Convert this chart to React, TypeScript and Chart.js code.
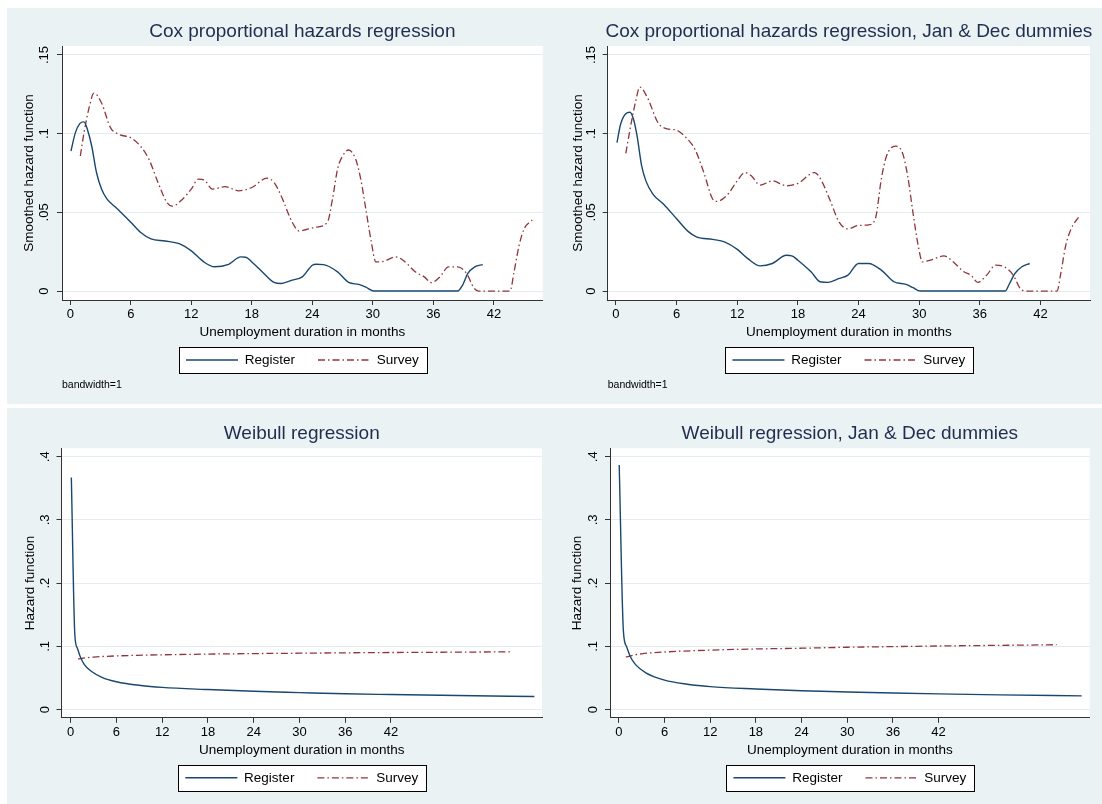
import React, { useEffect, useRef } from 'react';
import { Chart, registerables } from 'chart.js';

Chart.register(...registerables);

const FONT = "'Liberation Sans', Arial, Helvetica, sans-serif";
const NAVY = '#1a476f';
const MAROON = '#90353b';
const BG = '#eaf2f3';
const TITLE_COLOR = '#1f2d50';

// ---------- ticks & texts ----------
const coxYTicks = [0, 0.05, 0.1, 0.15];
const coxYTickLabels = ['0', '.05', '.1', '.15'];
const weibullYTicks = [0, 0.1, 0.2, 0.3, 0.4];
const weibullYTickLabels = ['0', '.1', '.2', '.3', '.4'];
const monthTicks = [0, 6, 12, 18, 24, 30, 36, 42];
const monthTickLabels = ['0', '6', '12', '18', '24', '30', '36', '42'];
const seriesLabels = ['Register', 'Survey'];
const panelTitles = [
  'Cox proportional hazards regression',
  'Cox proportional hazards regression, Jan & Dec dummies',
  'Weibull regression',
  'Weibull regression, Jan & Dec dummies',
];
const xAxisTitle = 'Unemployment duration in months';
const coxYTitle = 'Smoothed hazard function';
const weibullYTitle = 'Hazard function';
const coxNote = 'bandwidth=1';

// ---------- panel 1: Cox ----------
const cox1RegMonths = [0.07, 0.5, 0.94, 1.36, 1.7, 2.13, 2.6, 3.1, 3.63, 4.5, 6, 6.95, 8.0, 9.4, 10.8, 12, 13.24, 14.3, 15.7, 16.9, 17.4, 18, 19.2, 20.2, 20.9, 22.0, 23.0, 24, 24.4, 25.1, 26.5, 27.6, 28.6, 29.3, 30.1, 33, 36, 38.4, 38.9, 39.4, 40.1, 40.9];
const cox1RegHazard = [0.089, 0.1005, 0.1064, 0.1075, 0.1027, 0.092, 0.0753, 0.0648, 0.0585, 0.0532, 0.0437, 0.0374, 0.0332, 0.0318, 0.0301, 0.0255, 0.0185, 0.0154, 0.017, 0.0217, 0.0215, 0.0185, 0.0111, 0.0055, 0.0048, 0.0069, 0.009, 0.0164, 0.017, 0.0168, 0.0122, 0.0055, 0.0042, 0.0025, 0, 0, 0, 0, 0.0038, 0.011, 0.0154, 0.0168];
const cox1SurMonths = [1.0, 1.36, 1.9, 2.34, 3.1, 4.0, 4.86, 6, 6.95, 7.8, 8.7, 9.57, 10.1, 11.15, 12.0, 12.7, 13.24, 14.1, 15.35, 16.7, 18, 19.5, 20.2, 20.9, 22.0, 22.7, 23.4, 24.4, 25.5, 26.0, 26.5, 27.0, 27.6, 28.3, 28.8, 29.3, 29.85, 30.3, 31.06, 32.3, 33.2, 34.2, 35.1, 35.8, 36.65, 37.5, 38.4, 39.3, 40.0, 40.5, 43.6, 44.0, 44.5, 45.0, 45.8];
const cox1SurHazard = [0.0858, 0.1005, 0.1174, 0.1258, 0.1195, 0.1037, 0.0995, 0.0974, 0.0921, 0.0837, 0.069, 0.0564, 0.0539, 0.0585, 0.0648, 0.0711, 0.0707, 0.0648, 0.0663, 0.0637, 0.0658, 0.0717, 0.069, 0.0606, 0.0438, 0.0381, 0.0391, 0.0406, 0.0438, 0.0585, 0.0774, 0.0858, 0.0896, 0.0837, 0.0711, 0.0522, 0.0311, 0.0185, 0.0189, 0.0217, 0.0185, 0.0122, 0.009, 0.0053, 0.009, 0.0154, 0.0154, 0.0111, 0.0021, 0, 0, 0.0122, 0.029, 0.0395, 0.0452];

// ---------- panel 2: Cox, Jan & Dec dummies ----------
const cox2RegMonths = [0.1, 0.45, 0.94, 1.39, 1.74, 2.09, 2.54, 2.96, 3.65, 4.69, 6, 7.13, 8.0, 9.56, 10.78, 12, 13.04, 14.26, 15.47, 16.86, 17.4, 18, 19.3, 20.2, 21.0, 22.1, 22.95, 24, 25.0, 26.25, 27.5, 28.7, 29.4, 30.1, 33, 36, 38.5, 38.94, 39.46, 40.16, 40.93];
const cox2RegHazard = [0.0943, 0.1058, 0.1125, 0.1136, 0.109, 0.0984, 0.0795, 0.07, 0.0616, 0.0553, 0.0459, 0.0379, 0.0343, 0.0328, 0.0311, 0.0265, 0.0206, 0.016, 0.0175, 0.0227, 0.0223, 0.0196, 0.0122, 0.0059, 0.0055, 0.008, 0.0101, 0.0175, 0.0175, 0.0133, 0.0059, 0.0042, 0.0021, 0, 0, 0, 0, 0.0048, 0.011, 0.0154, 0.0175];
const cox2SurMonths = [0.97, 1.39, 1.91, 2.36, 3.13, 4.17, 5.04, 6, 6.95, 7.82, 8.69, 9.56, 9.98, 10.95, 12, 12.76, 13.39, 14.26, 15.47, 16.86, 18, 19.65, 20.34, 21.2, 22.08, 22.95, 24, 25.04, 25.7, 26.25, 26.77, 27.64, 28.34, 28.86, 29.38, 29.9, 30.32, 31.1, 32.44, 33.38, 34.42, 35.12, 35.8, 36.68, 37.55, 38.42, 39.3, 39.99, 40.5, 43.64, 43.98, 44.5, 45.03, 45.83];
const cox2SurHazard = [0.0875, 0.1027, 0.1195, 0.1296, 0.1226, 0.1068, 0.1031, 0.1022, 0.0974, 0.09, 0.0753, 0.0585, 0.057, 0.0606, 0.07, 0.0753, 0.0732, 0.0673, 0.07, 0.0669, 0.0684, 0.0753, 0.07, 0.0574, 0.0438, 0.0395, 0.0417, 0.0421, 0.0469, 0.0711, 0.0858, 0.0921, 0.0879, 0.0732, 0.05, 0.029, 0.0185, 0.0196, 0.0223, 0.0185, 0.0122, 0.0101, 0.0055, 0.0101, 0.0164, 0.0154, 0.0101, 0.0017, 0, 0, 0.0101, 0.029, 0.0395, 0.0475];

// ---------- panel 3: Weibull ----------
const wei1RegMonths = [0.09, 0.55, 0.88, 1.25, 1.8, 2.7, 4.1, 6, 9.2, 12, 18, 24, 30, 36, 42, 50.7, 60.8];
const wei1RegHazard = [0.367, 0.118, 0.097, 0.084, 0.071, 0.0605, 0.051, 0.044, 0.038, 0.035, 0.0316, 0.0288, 0.0268, 0.0249, 0.0237, 0.0221, 0.0205];
const wei1SurMonths = [0.97, 2, 3, 6, 12, 18, 24, 30, 36, 42, 48, 54, 57.6];
const wei1SurHazard = [0.08, 0.0818, 0.083, 0.0848, 0.0866, 0.0877, 0.0885, 0.0891, 0.0897, 0.0902, 0.0906, 0.091, 0.0912];

// ---------- panel 4: Weibull, Jan & Dec dummies ----------
const wei2RegMonths = [0.05, 0.6, 1.0, 1.5, 2.2, 3.55, 6, 9, 12, 18, 24, 30, 36, 42, 50, 60.8];
const wei2RegHazard = [0.387, 0.124, 0.1, 0.084, 0.071, 0.058, 0.0465, 0.04, 0.0362, 0.0325, 0.0297, 0.0278, 0.0262, 0.0248, 0.0232, 0.0216];
const wei2SurMonths = [0.92, 2, 3, 6, 12, 18, 24, 30, 36, 42, 48, 54, 57.5];
const wei2SurHazard = [0.0832, 0.0862, 0.0882, 0.091, 0.094, 0.0958, 0.097, 0.0985, 0.0995, 0.1005, 0.1013, 0.102, 0.1026];

// ---------- helpers ----------
const zip = (xs: number[], ys: number[]) => xs.map((x, i) => ({ x, y: ys[i] }));

type Spec = {
  left: number; top: number; width: number; height: number;
  title: string; yTitle: string; note?: string;
  yTicks: number[]; yTickLabels: string[];
  xMin: number; xMax: number; yMin: number; yMax: number;
  regX: number[]; regY: number[]; surX: number[]; surY: number[];
  padLeft: number; padRight: number; padBottom: number;
  titleTop: number; titleBottom: number; yTitlePad: [number, number]; yTickPad: number;
};

const TITLE_FS = 19;
const LEGEND_FS = 13.5;
const LEGEND_PAD = 23;

const stataPlugin = {
  id: 'stataLook',
  beforeDraw(chart: any) {
    const { ctx, width, height, chartArea } = chart;
    ctx.save();
    ctx.fillStyle = BG;
    ctx.fillRect(0, 0, width, height);
    ctx.fillStyle = '#ffffff';
    ctx.fillRect(chartArea.left, chartArea.top, chartArea.right - chartArea.left, chartArea.bottom - chartArea.top);
    const lg = chart.legend;
    if (lg && lg.lineWidths && lg.lineWidths.length) {
      const rowW = lg.lineWidths[0];
      const sx = (lg.left + LEGEND_PAD + lg.right - rowW) / 2;
      const x0 = Math.round(sx - 7) + 0.5;
      const x1 = Math.round(sx + rowW - LEGEND_PAD + 8) + 0.5;
      const it = lg.top + LEGEND_PAD;
      const y0 = Math.round(it - 6.5) + 0.5;
      const y1 = Math.round(it + LEGEND_FS + 6.5) + 0.5;
      ctx.fillStyle = '#ffffff';
      ctx.fillRect(x0, y0, x1 - x0, y1 - y0);
      ctx.strokeStyle = '#000000';
      ctx.lineWidth = 1;
      ctx.strokeRect(x0, y0, x1 - x0, y1 - y0);
    }
    ctx.restore();
  },
};

function makeTitlePlugin(text: string, centerY: number) {
  return {
    id: 'panelTitle',
    afterDraw(chart: any) {
      const { ctx, chartArea } = chart;
      ctx.save();
      ctx.font = `normal ${TITLE_FS}px ${FONT}`;
      ctx.fillStyle = TITLE_COLOR;
      ctx.textAlign = 'center';
      ctx.textBaseline = 'middle';
      ctx.fillText(text, (chartArea.left + chartArea.right) / 2, centerY);
      ctx.restore();
    },
  };
}

function buildConfig(s: Spec): any {
  const datasets = [
    {
      label: seriesLabels[0],
      data: zip(s.regX, s.regY),
      borderColor: NAVY,
      backgroundColor: NAVY,
      borderWidth: 1.4,
      pointRadius: 0,
      fill: false,
      cubicInterpolationMode: 'monotone',
    },
    {
      label: seriesLabels[1],
      data: zip(s.surX, s.surY),
      borderColor: MAROON,
      backgroundColor: MAROON,
      borderWidth: 1.3,
      borderDash: [7, 3, 1.5, 3],
      pointRadius: 0,
      fill: false,
      cubicInterpolationMode: 'monotone',
    },
  ];
  const titleBox = s.titleTop + TITLE_FS * 1.2 + s.titleBottom;
  return {
    type: 'line',
    data: { datasets },
    options: {
      animation: false,
      responsive: false,
      maintainAspectRatio: false,
      events: [],
      layout: { padding: { left: s.padLeft, right: s.padRight, top: titleBox, bottom: s.padBottom } },
      plugins: {
        tooltip: { enabled: false },
        title: { display: false },
        subtitle: {
          display: !!s.note,
          text: s.note || '',
          position: 'bottom',
          align: 'start',
          fullSize: false,
          color: '#000000',
          font: { family: FONT, size: 10.5, weight: 'normal', lineHeight: 1.2 },
          padding: { top: 2, bottom: 12.65 },
        },
        legend: {
          display: true,
          position: 'bottom',
          fullSize: false,
          labels: {
            usePointStyle: true,
            pointStyleWidth: 52,
            padding: LEGEND_PAD,
            color: '#000000',
            font: { family: FONT, size: LEGEND_FS },
            generateLabels: (chart: any) =>
              chart.data.datasets.map((ds: any, i: number) => ({
                text: ds.label,
                fillStyle: ds.borderColor,
                strokeStyle: ds.borderColor,
                lineWidth: ds.borderWidth,
                lineDash: ds.borderDash || [],
                pointStyle: 'line',
                fontColor: '#000000',
                hidden: false,
                datasetIndex: i,
              })),
          },
        },
      },
      scales: {
        x: {
          type: 'linear',
          min: s.xMin,
          max: s.xMax,
          afterBuildTicks: (scale: any) => {
            scale.ticks = monthTicks.map((v) => ({ value: v }));
          },
          ticks: {
            autoSkip: false,
            maxRotation: 0,
            minRotation: 0,
            padding: 2,
            color: '#000000',
            font: { family: FONT, size: 13 },
            callback: (_v: any, i: number) => monthTickLabels[i],
          },
          grid: { drawOnChartArea: false, drawTicks: true, tickLength: 5, tickColor: '#333333', tickWidth: 1 },
          border: { display: true, color: '#333333', width: 1 },
          title: {
            display: true,
            text: xAxisTitle,
            color: '#000000',
            font: { family: FONT, size: 13.5, lineHeight: 1.2 },
            padding: { top: -0.5, bottom: -10.05 },
          },
        },
        y: {
          type: 'linear',
          min: s.yMin,
          max: s.yMax,
          afterBuildTicks: (scale: any) => {
            scale.ticks = s.yTicks.map((v) => ({ value: v }));
          },
          ticks: {
            autoSkip: false,
            minRotation: 90,
            maxRotation: 90,
            crossAlign: 'center',
            padding: s.yTickPad,
            color: '#000000',
            font: { family: FONT, size: 13 },
            callback: (_v: any, i: number) => s.yTickLabels[i],
          },
          grid: { drawOnChartArea: true, color: '#e3ecee', lineWidth: 1, drawTicks: true, tickLength: 5, tickColor: '#333333', tickWidth: 1 },
          border: { display: true, color: '#333333', width: 1 },
          title: {
            display: true,
            text: s.yTitle,
            color: '#000000',
            font: { family: FONT, size: 13.5, lineHeight: 1.2 },
            padding: { top: s.yTitlePad[0], bottom: s.yTitlePad[1] },
          },
        },
      },
    },
    plugins: [stataPlugin, makeTitlePlugin(s.title, s.titleTop + (TITLE_FS * 1.2) / 2)],
  };
}

function Panel({ spec }: { spec: Spec }) {
  const ref = useRef<HTMLCanvasElement | null>(null);
  useEffect(() => {
    if (!ref.current) return;
    const chart = new Chart(ref.current, buildConfig(spec));
    return () => chart.destroy();
  }, [spec]);
  return (
    <canvas
      ref={ref}
      width={spec.width}
      height={spec.height}
      style={{ position: 'absolute', left: spec.left, top: spec.top, width: spec.width, height: spec.height, display: 'block' }}
    />
  );
}

const specs: Spec[] = [
  {
    left: 7, top: 8, width: 544, height: 396,
    title: panelTitles[0], yTitle: coxYTitle, note: coxNote,
    yTicks: coxYTicks, yTickLabels: coxYTickLabels,
    xMin: -0.82, xMax: 46.84, yMin: -0.0057, yMax: 0.1557,
    regX: cox1RegMonths, regY: cox1RegHazard, surX: cox1SurMonths, surY: cox1SurHazard,
    padLeft: 0, padRight: 8.3, padBottom: 0,
    titleTop: 12.6, titleBottom: 2.6, yTitlePad: [14.4, -4.12], yTickPad: 3.96,
  },
  {
    left: 551, top: 8, width: 551, height: 396,
    title: panelTitles[1], yTitle: coxYTitle, note: coxNote,
    yTicks: coxYTicks, yTickLabels: coxYTickLabels,
    xMin: -0.82, xMax: 46.9, yMin: -0.0057, yMax: 0.1557,
    regX: cox2RegMonths, regY: cox2RegHazard, surX: cox2SurMonths, surY: cox2SurHazard,
    padLeft: 5, padRight: 12, padBottom: 0,
    titleTop: 12.6, titleBottom: 2.6, yTitlePad: [14.5, -4.32], yTickPad: 2.36,
  },
  {
    left: 7, top: 408, width: 544, height: 396,
    title: panelTitles[2], yTitle: weibullYTitle,
    yTicks: weibullYTicks, yTickLabels: weibullYTickLabels,
    xMin: -1.2, xMax: 61.8, yMin: -0.0131, yMax: 0.4133,
    regX: wei1RegMonths, regY: wei1RegHazard, surX: wei1SurMonths, surY: wei1SurHazard,
    padLeft: 0, padRight: 9, padBottom: 9.45,
    titleTop: 13.9, titleBottom: 3.6, yTitlePad: [14.8, -9.26], yTickPad: 6.08,
  },
  {
    left: 551, top: 408, width: 551, height: 396,
    title: panelTitles[3], yTitle: weibullYTitle,
    yTicks: weibullYTicks, yTickLabels: weibullYTickLabels,
    xMin: -1.16, xMax: 61.85, yMin: -0.0131, yMax: 0.4133,
    regX: wei2RegMonths, regY: wei2RegHazard, surX: wei2SurMonths, surY: wei2SurHazard,
    padLeft: 0, padRight: 12.3, padBottom: 9.45,
    titleTop: 13.9, titleBottom: 3.6, yTitlePad: [18.6, -9.16], yTickPad: 6.38,
  },
];

export default function App() {
  return (
    <div style={{ position: 'absolute', left: 0, top: 0, width: 1102, height: 804, background: '#ffffff', overflow: 'hidden' }}>
      {specs.map((s, i) => (
        <Panel key={i} spec={s} />
      ))}
    </div>
  );
}
